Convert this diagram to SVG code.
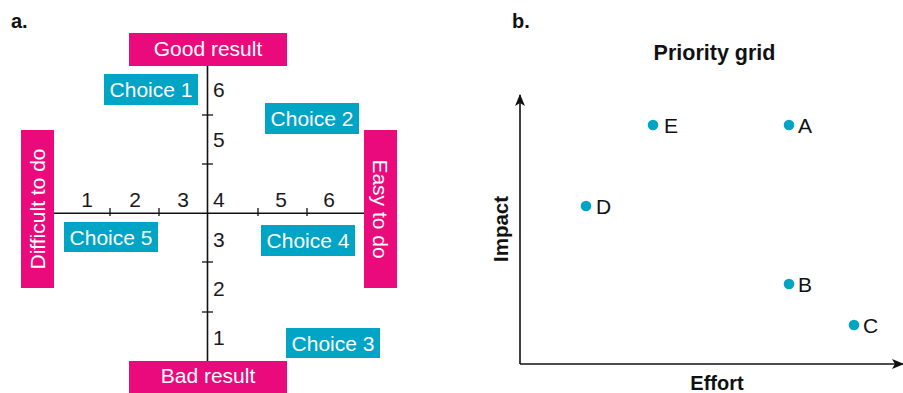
<svg xmlns="http://www.w3.org/2000/svg" width="903" height="393" viewBox="0 0 903 393">
<style>
text{font-family:"Liberation Sans",Arial,Helvetica,sans-serif;}
.pk{fill:#EB0A7C;}
.tl{fill:#00A4C5;}
.wt{fill:#fff;font-size:21px;text-anchor:middle;}
.num{fill:#1a1a1a;font-size:21px;}
.ax{stroke:#111;stroke-width:1.6;fill:none;}
.tk{stroke:#111;stroke-width:1.3;}
.dot{fill:#00A4C5;}
.lbl{fill:#111;font-size:21px;}
.bold{font-weight:bold;fill:#111;}
</style>
<defs>
<marker id="arr" viewBox="0 0 12 10" markerWidth="12" markerHeight="10" refX="11" refY="5" orient="auto" markerUnits="userSpaceOnUse">
<path d="M0,0 L12,5 L0,10 L3,5 z" fill="#111"/>
</marker>
</defs>
<rect width="903" height="393" fill="#fff"/>

<text x="11" y="28" class="bold" font-size="20">a.</text>
<text x="512" y="28" class="bold" font-size="20">b.</text>

<g id="connectors">
<line class="ax" x1="207.5" y1="66" x2="207.5" y2="361"/>
<line class="ax" x1="53" y1="213.3" x2="364" y2="213.3"/>
<line class="tk" x1="202" y1="115" x2="213" y2="115"/>
<line class="tk" x1="202" y1="164" x2="213" y2="164"/>
<line class="tk" x1="202" y1="262" x2="213" y2="262"/>
<line class="tk" x1="202" y1="312" x2="213" y2="312"/>
<line class="tk" x1="110" y1="208" x2="110" y2="216"/>
<line class="tk" x1="159" y1="208" x2="159" y2="216"/>
<line class="tk" x1="258" y1="208" x2="258" y2="216"/>
<line class="tk" x1="307" y1="208" x2="307" y2="216"/>
<line class="ax" x1="520" y1="364" x2="520" y2="95" marker-end="url(#arr)"/>
<line class="ax" x1="520" y1="364" x2="903" y2="364" marker-end="url(#arr)"/>
</g>

<g id="axis-numbers">
<text class="num" x="213" y="97">6</text>
<text class="num" x="213" y="147">5</text>
<text class="num" x="213" y="207">4</text>
<text class="num" x="213" y="247">3</text>
<text class="num" x="213" y="296">2</text>
<text class="num" x="213" y="345">1</text>
<text class="num" x="87" y="207" text-anchor="middle">1</text>
<text class="num" x="135" y="207" text-anchor="middle">2</text>
<text class="num" x="183" y="207" text-anchor="middle">3</text>
<text class="num" x="281" y="207" text-anchor="middle">5</text>
<text class="num" x="329" y="207" text-anchor="middle">6</text>
</g>

<g id="good-result">
<rect class="pk" x="129" y="33" width="158" height="33"/>
<text class="wt" x="208" y="56">Good result</text>
</g>
<g id="bad-result">
<rect class="pk" x="129" y="361" width="158" height="32"/>
<text class="wt" x="208" y="383">Bad result</text>
</g>
<g id="difficult-to-do">
<rect class="pk" x="21" y="130" width="33" height="158"/>
<text class="wt" transform="translate(45,209) rotate(-90)">Difficult to do</text>
</g>
<g id="easy-to-do">
<rect class="pk" x="364" y="130" width="33" height="158"/>
<text class="wt" transform="translate(373,209) rotate(90)">Easy to do</text>
</g>

<g id="choice-1">
<rect class="tl" x="104" y="74" width="94" height="31"/>
<text class="wt" x="151" y="97">Choice 1</text>
</g>
<g id="choice-2">
<rect class="tl" x="265" y="103" width="94" height="31"/>
<text class="wt" x="312" y="126">Choice 2</text>
</g>
<g id="choice-3">
<rect class="tl" x="286" y="328" width="94" height="30"/>
<text class="wt" x="333" y="350.5">Choice 3</text>
</g>
<g id="choice-4">
<rect class="tl" x="261" y="225" width="94" height="31"/>
<text class="wt" x="308" y="248">Choice 4</text>
</g>
<g id="choice-5">
<rect class="tl" x="64" y="222" width="94" height="30"/>
<text class="wt" x="111" y="244.5">Choice 5</text>
</g>

<text x="714.5" y="60" class="bold" font-size="21.5" text-anchor="middle">Priority grid</text>
<text x="717" y="390" class="bold" font-size="20" text-anchor="middle">Effort</text>
<text class="bold" font-size="20.5" text-anchor="middle" transform="translate(508,229) rotate(-90)">Impact</text>

<g id="point-E"><circle class="dot" cx="653" cy="125" r="5.3"/><text class="lbl" x="664" y="133">E</text></g>
<g id="point-A"><circle class="dot" cx="789" cy="125" r="5.3"/><text class="lbl" x="798" y="133">A</text></g>
<g id="point-D"><circle class="dot" cx="586" cy="206" r="5.3"/><text class="lbl" x="596" y="214">D</text></g>
<g id="point-B"><circle class="dot" cx="789" cy="284" r="5.3"/><text class="lbl" x="798" y="292">B</text></g>
<g id="point-C"><circle class="dot" cx="854" cy="325" r="5.3"/><text class="lbl" x="863" y="333">C</text></g>
</svg>
